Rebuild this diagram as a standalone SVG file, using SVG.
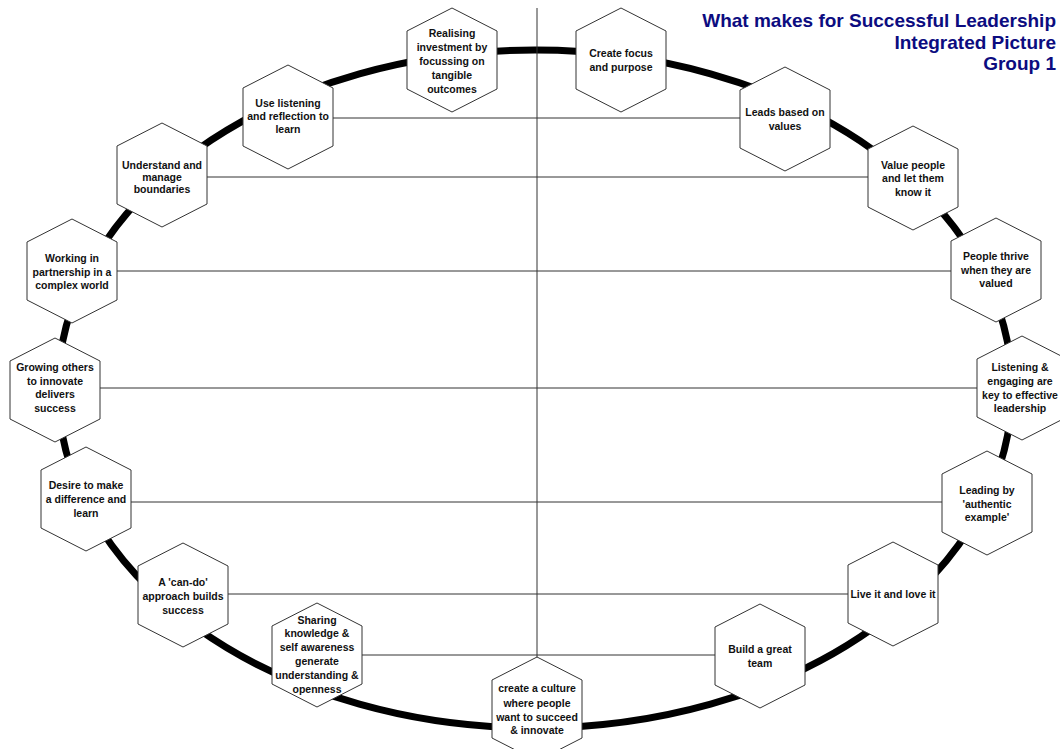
<svg xmlns="http://www.w3.org/2000/svg" xmlns:xlink="http://www.w3.org/1999/xlink" width="1060" height="749" viewBox="0 0 1060 749">
  <style>
    .ring { fill: none; stroke: #000; stroke-width: 7; }
    .link { stroke: #333; stroke-width: 1; fill: none; }
    .hex { fill: #fff; stroke: #333; stroke-width: 1; }
    .lbl { font-family: "Liberation Sans", Arial, sans-serif; font-weight: bold; font-size: 10.5px; fill: #111; text-anchor: middle; }
    .title { font-family: "Liberation Sans", Arial, sans-serif; font-weight: bold; font-size: 19px; fill: #0c0c80; text-anchor: end; }
  </style>
  <defs>
    <polygon id="hexShape" class="hex" points="0,-52 45,-29 45,29 0,52 -45,29 -45,-29"/>
  </defs>

  <rect width="1060" height="749" fill="#fff"/>

  <!-- heading -->
  <g id="title">
    <text class="title" x="1056" y="27">What makes for Successful Leadership</text>
    <text class="title" x="1056" y="48.5">Integrated Picture</text>
    <text class="title" x="1056" y="70">Group 1</text>
  </g>

  <!-- the ring that carries the hexagons -->
  <ellipse class="ring" cx="535" cy="389" rx="477" ry="339"/>

  <!-- cross links between opposite hexagons -->
  <g id="connectors">
    <line class="link" x1="537" y1="8" x2="537" y2="709"/>
    <line class="link" x1="288" y1="118" x2="785" y2="118"/>
    <line class="link" x1="162" y1="177" x2="913" y2="177"/>
    <line class="link" x1="72" y1="271" x2="996" y2="271"/>
    <line class="link" x1="55" y1="388" x2="1022" y2="388"/>
    <line class="link" x1="86" y1="502" x2="987" y2="502"/>
    <line class="link" x1="183" y1="594" x2="893" y2="594"/>
    <line class="link" x1="317" y1="655" x2="760" y2="655"/>
  </g>

  <g id="n-realising">
    <use xlink:href="#hexShape" x="452" y="60"/>
    <text class="lbl"><tspan x="452" y="37">Realising</tspan><tspan x="452" y="51">investment by</tspan><tspan x="452" y="65">focussing on</tspan><tspan x="452" y="79">tangible</tspan><tspan x="452" y="93">outcomes</tspan></text>
  </g>
  <g id="n-focus">
    <use xlink:href="#hexShape" x="621" y="60"/>
    <text class="lbl"><tspan x="621" y="57">Create focus</tspan><tspan x="621" y="71">and purpose</tspan></text>
  </g>
  <g id="n-values">
    <use xlink:href="#hexShape" x="785" y="119"/>
    <text class="lbl"><tspan x="785" y="116">Leads based on</tspan><tspan x="785" y="130">values</tspan></text>
  </g>
  <g id="n-listening">
    <use xlink:href="#hexShape" x="288" y="117"/>
    <text class="lbl"><tspan x="288" y="107">Use listening</tspan><tspan x="288" y="120">and reflection to</tspan><tspan x="288" y="133">learn</tspan></text>
  </g>
  <g id="n-boundaries">
    <use xlink:href="#hexShape" x="162" y="175"/>
    <text class="lbl"><tspan x="162" y="169">Understand and</tspan><tspan x="162" y="181">manage</tspan><tspan x="162" y="193">boundaries</tspan></text>
  </g>
  <g id="n-value-people">
    <use xlink:href="#hexShape" x="913" y="178"/>
    <text class="lbl"><tspan x="913" y="169">Value people</tspan><tspan x="913" y="182">and let them</tspan><tspan x="913" y="196">know it</tspan></text>
  </g>
  <g id="n-partnership">
    <use xlink:href="#hexShape" x="72" y="271"/>
    <text class="lbl"><tspan x="72" y="262">Working in</tspan><tspan x="72" y="276">partnership in a</tspan><tspan x="72" y="289">complex world</tspan></text>
  </g>
  <g id="n-thrive">
    <use xlink:href="#hexShape" x="996" y="270"/>
    <text class="lbl"><tspan x="996" y="260">People thrive</tspan><tspan x="996" y="274">when they are</tspan><tspan x="996" y="287">valued</tspan></text>
  </g>
  <g id="n-growing">
    <use xlink:href="#hexShape" x="55" y="390"/>
    <text class="lbl"><tspan x="55" y="371">Growing others</tspan><tspan x="55" y="384.5">to innovate</tspan><tspan x="55" y="398">delivers</tspan><tspan x="55" y="411.5">success</tspan></text>
  </g>
  <g id="n-engaging">
    <use xlink:href="#hexShape" x="1022" y="388"/>
    <text class="lbl"><tspan x="1020" y="371">Listening &amp;</tspan><tspan x="1020" y="385">engaging are</tspan><tspan x="1020" y="399">key to effective</tspan><tspan x="1020" y="412">leadership</tspan></text>
  </g>
  <g id="n-difference">
    <use xlink:href="#hexShape" x="86" y="499"/>
    <text class="lbl"><tspan x="86" y="489">Desire to make</tspan><tspan x="86" y="503">a difference and</tspan><tspan x="86" y="517">learn</tspan></text>
  </g>
  <g id="n-authentic">
    <use xlink:href="#hexShape" x="987" y="503"/>
    <text class="lbl"><tspan x="987" y="494">Leading by</tspan><tspan x="987" y="508">'authentic</tspan><tspan x="987" y="521">example'</tspan></text>
  </g>
  <g id="n-can-do">
    <use xlink:href="#hexShape" x="183" y="595"/>
    <text class="lbl"><tspan x="183" y="586">A 'can-do'</tspan><tspan x="183" y="600">approach builds</tspan><tspan x="183" y="614">success</tspan></text>
  </g>
  <g id="n-live-it">
    <use xlink:href="#hexShape" x="893" y="594"/>
    <text class="lbl" x="893" y="598">Live it and love it</text>
  </g>
  <g id="n-sharing">
    <use xlink:href="#hexShape" x="317" y="655"/>
    <text class="lbl"><tspan x="317" y="624">Sharing</tspan><tspan x="317" y="637">knowledge &amp;</tspan><tspan x="317" y="651">self awareness</tspan><tspan x="317" y="665">generate</tspan><tspan x="317" y="679">understanding &amp;</tspan><tspan x="317" y="693">openness</tspan></text>
  </g>
  <g id="n-team">
    <use xlink:href="#hexShape" x="760" y="656"/>
    <text class="lbl"><tspan x="760" y="653">Build a great</tspan><tspan x="760" y="667">team</tspan></text>
  </g>
  <g id="n-culture">
    <use xlink:href="#hexShape" x="537" y="709"/>
    <text class="lbl"><tspan x="537" y="692">create a culture</tspan><tspan x="537" y="707">where people</tspan><tspan x="537" y="721">want to succeed</tspan><tspan x="537" y="734">&amp; innovate</tspan></text>
  </g>
</svg>
